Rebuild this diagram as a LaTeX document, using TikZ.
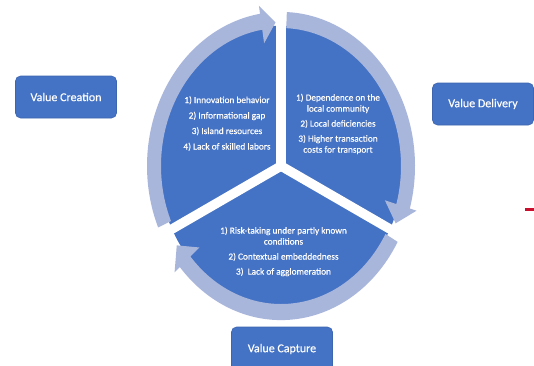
\documentclass[tikz,border=0pt]{standalone}
\usepackage{fontspec}
\setmainfont{Carlito}
\newfontfamily\heavyfont{Carlito}[FakeBold=0.35]
\definecolor{segblue}{HTML}{4472C4}
\definecolor{bandblue}{HTML}{A9B6DC}
\definecolor{boxedge}{HTML}{3E66B0}
\definecolor{markred}{HTML}{C8102E}
\newcommand\cyclearrow[3]{%
  \fill[band] (#1:134) arc[start angle=#1, end angle=#2, radius=134]
    -- (#2:141) -- (#3:125) -- (#2:108) -- (#2:120)
    arc[start angle=#2, end angle=#1, radius=120] -- cycle;}
\begin{document}
\begin{tikzpicture}[x=1pt,y=1pt,
  valbox/.style={fill=segblue, draw=boxedge, line width=0.6pt, rounded corners=5pt,
    minimum width=101pt, minimum height=42pt, text=white,
    font=\heavyfont\fontsize{12}{14}\selectfont, inner sep=0pt},
  segtext/.style={text=white, font=\heavyfont\fontsize{9.3}{11}\selectfont, align=center, inner sep=0pt},
  gapline/.style={white, line width=9.5pt},
  band/.style={fill=bandblue}]
\clip (0,0) rectangle (534,365);
\fill[white] (0,0) rectangle (534,365);
\begin{scope}[shift={(281,199)}, yscale=1.15]
  \fill[segblue] (0,0) circle[radius=122];
  % arrows: tail angle, head base angle, tip angle
  \cyclearrow{203.5}{99}{92.5}
  \cyclearrow{87.5}{-16}{-23.5}
  \cyclearrow{330.5}{221}{213.5}
  \coordinate (c) at (0,0);
  \coordinate (g1) at (90:150);
  \coordinate (g2) at (206.7:150);
  \coordinate (g3) at (333.3:150);
  \draw[gapline] (c) -- (g1);
  \draw[gapline] (c) -- (g2);
  \draw[gapline] (c) -- (g3);
\end{scope}
\node[segtext] (t1) at (227,241.5) {1) Innovation behavior\\[4.5pt]2) Informational gap\\[4.5pt]3) Island resources\\[4.5pt]4) Lack of skilled labors};
\node[segtext] (t2) at (338,241) {1) Dependence on the\\local community\\[4pt]2) Local deficiencies\\[4pt]3) Higher transaction\\costs for transport};
\node[segtext] (t3) at (283.5,113.5) {1) Risk-taking under partly known\\conditions\\[4pt]2) Contextual embeddedness\\[4pt]3)\ \ Lack of agglomeration};
\node[valbox] (vcr) at (66,268) {Value Creation};
\node[valbox] (vdl) at (483,261) {Value Delivery};
\node[valbox, minimum height=44pt] (vcp) at (282,16) {Value Capture};
\draw[markred, line width=2.5pt] (525,155.5) -- (534,155.5);
\end{tikzpicture}
\end{document}
